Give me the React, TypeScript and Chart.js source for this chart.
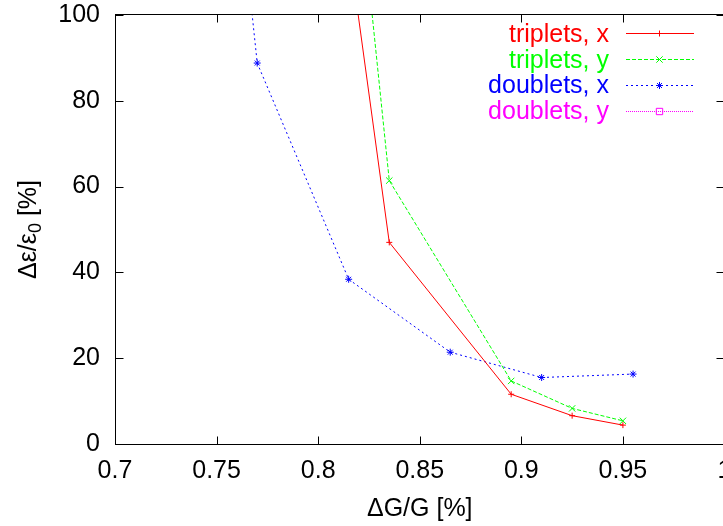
import React, { useEffect, useRef } from 'react';
import { Chart, registerables } from 'chart.js';

Chart.register(...registerables);

// ---- data ----
const xTicks = [0.7, 0.75, 0.8, 0.85, 0.9, 0.95, 1];
const yTicks = [0, 20, 40, 60, 80, 100];

const seriesNames = ['triplets, x', 'triplets, y', 'doublets, x', 'doublets, y'];

const tripletsXx = [0.805, 0.835, 0.895, 0.925, 0.95];
const tripletsXy = [151, 47.0, 11.6, 6.6, 4.4];

const tripletsYx = [0.805, 0.835, 0.895, 0.925, 0.95];
const tripletsYy = [199, 61.4, 14.7, 8.3, 5.4];

const doubletsXx = [0.76, 0.77, 0.815, 0.865, 0.91, 0.955];
const doubletsXy = [134, 88.8, 38.4, 21.4, 15.5, 16.3];

const doubletsYx: number[] = [];
const doubletsYy: number[] = [];

const xTitle = 'ΔG/G [%]';
const yTitleMain = 'Δε/ε';
const yTitleSub = '0';
const yTitleTail = ' [%]';

// ---- styles ----
const FONT = "'Liberation Sans', Arial, Helvetica, sans-serif";
const FONT_SIZE = 25;

function toPoints(xs: number[], ys: number[]) {
  return xs.map((x, i) => ({ x, y: ys[i] }));
}

function drawMarker(ctx: CanvasRenderingContext2D, style: string, x: number, y: number, r: number) {
  ctx.beginPath();
  const d = r * Math.SQRT1_2;
  if (style === 'cross' || style === 'star') {
    ctx.moveTo(x - r, y);
    ctx.lineTo(x + r, y);
    ctx.moveTo(x, y - r);
    ctx.lineTo(x, y + r);
  }
  if (style === 'crossRot' || style === 'star') {
    ctx.moveTo(x - d, y - d);
    ctx.lineTo(x + d, y + d);
    ctx.moveTo(x - d, y + d);
    ctx.lineTo(x + d, y - d);
  }
  if (style === 'rect') {
    ctx.rect(x - d, y - d, 2 * d, 2 * d);
  }
  ctx.stroke();
}

const framePlugin = {
  id: 'gnuFrame',
  beforeDatasetsDraw(chart: any) {
    const { ctx, chartArea: a, scales } = chart;
    const L = Math.round(a.left) + 0.5;
    const R = Math.round(a.right) - 0.5;
    const T = Math.round(a.top) - 0.5;
    const B = Math.round(a.bottom) + 0.5;
    ctx.save();
    ctx.strokeStyle = '#000';
    ctx.lineWidth = 1;
    ctx.setLineDash([]);
    ctx.strokeRect(L, T, R - L, B - T);
    const tl = 8;
    ctx.beginPath();
    xTicks.forEach((v) => {
      const px = Math.round(scales.x.getPixelForValue(v)) + 0.5;
      ctx.moveTo(px, B);
      ctx.lineTo(px, B - tl);
      ctx.moveTo(px, T);
      ctx.lineTo(px, T + tl);
    });
    yTicks.forEach((v) => {
      const py = Math.round(scales.y.getPixelForValue(v)) + 0.5;
      ctx.moveTo(L, py);
      ctx.lineTo(L + tl, py);
      ctx.moveTo(R, py);
      ctx.lineTo(R - tl, py);
    });
    ctx.stroke();
    ctx.restore();
  },
  afterDraw(chart: any) {
    const { ctx, chartArea: a } = chart;
    ctx.save();
    ctx.fillStyle = '#000';
    // x title
    ctx.font = `${FONT_SIZE}px ${FONT}`;
    ctx.textAlign = 'center';
    ctx.textBaseline = 'alphabetic';
    ctx.fillText(xTitle, (a.left + a.right) / 2, 516);
    // y title (rotated, with subscript)
    const mainFont = `${FONT_SIZE}px ${FONT}`;
    const subFont = `18px ${FONT}`;
    ctx.font = mainFont;
    const w1 = ctx.measureText(yTitleMain).width;
    const w3 = ctx.measureText(yTitleTail).width;
    ctx.font = subFont;
    const w2 = ctx.measureText(yTitleSub).width;
    const total = w1 + w2 + w3;
    ctx.translate(35.5, (a.top + a.bottom) / 2);
    ctx.rotate(-Math.PI / 2);
    ctx.textAlign = 'left';
    let x0 = -total / 2;
    ctx.font = mainFont;
    ctx.fillText(yTitleMain, x0, 0);
    x0 += w1;
    ctx.font = subFont;
    ctx.fillText(yTitleSub, x0, 5);
    x0 += w2;
    ctx.font = mainFont;
    ctx.fillText(yTitleTail, x0, 0);
    ctx.restore();

    // legend (gnuplot style: text right-aligned, sample to the right)
    ctx.save();
    ctx.font = `${FONT_SIZE}px ${FONT}`;
    ctx.textAlign = 'right';
    ctx.textBaseline = 'alphabetic';
    chart.data.datasets.forEach((ds: any, i: number) => {
      const cy = 33.3 + i * 25.8;
      ctx.fillStyle = ds.borderColor;
      ctx.fillText(ds.label, 609, cy + 8.5);
      const ly = Math.round(cy) + 0.5;
      ctx.strokeStyle = ds.borderColor;
      ctx.lineWidth = 1;
      ctx.setLineDash(ds.borderDash || []);
      ctx.beginPath();
      ctx.moveTo(626, ly);
      ctx.lineTo(694, ly);
      ctx.stroke();
      ctx.setLineDash([]);
      drawMarker(ctx, ds.pointStyle, 659.5, ly, ds.legendMarkerRadius);
    });
    ctx.restore();
  },
};

export default function App() {
  const ref = useRef<HTMLCanvasElement>(null);

  useEffect(() => {
    if (!ref.current) return;
    const tickFont = { size: FONT_SIZE, family: FONT };
    const chart = new Chart(ref.current, {
      type: 'line',
      data: {
        datasets: [
          {
            label: seriesNames[0],
            data: toPoints(tripletsXx, tripletsXy),
            borderColor: '#ff0000',
            backgroundColor: '#ff0000',
            borderWidth: 1,
            borderDash: [],
            pointStyle: 'cross',
            pointRadius: 3,
            pointBorderWidth: 1,
            pointBorderColor: '#ff0000',
            legendMarkerRadius: 3,
          } as any,
          {
            label: seriesNames[1],
            data: toPoints(tripletsYx, tripletsYy),
            borderColor: '#00ff00',
            backgroundColor: '#00ff00',
            borderWidth: 1,
            borderDash: [4, 2],
            pointStyle: 'crossRot',
            pointRadius: 4.5,
            pointBorderWidth: 1,
            pointBorderColor: '#00ff00',
            legendMarkerRadius: 4.5,
          } as any,
          {
            label: seriesNames[2],
            data: toPoints(doubletsXx, doubletsXy),
            borderColor: '#0000ff',
            backgroundColor: '#0000ff',
            borderWidth: 1,
            borderDash: [2, 3],
            pointStyle: 'star',
            pointRadius: 3.5,
            pointBorderWidth: 1,
            pointBorderColor: '#0000ff',
            legendMarkerRadius: 3.5,
          } as any,
          {
            label: seriesNames[3],
            data: toPoints(doubletsYx, doubletsYy),
            borderColor: '#ff00ff',
            backgroundColor: '#ff00ff',
            borderWidth: 1,
            borderDash: [1, 1],
            pointStyle: 'rect',
            pointRadius: 4.5,
            pointBorderWidth: 1,
            pointBackgroundColor: 'rgba(0,0,0,0)',
            pointBorderColor: '#ff00ff',
            legendMarkerRadius: 4.5,
          } as any,
        ],
      },
      options: {
        animation: false,
        responsive: false,
        devicePixelRatio: 1,
        layout: { padding: { top: 15, right: 20.5, left: 0, bottom: 0 } },
        plugins: {
          legend: { display: false },
          tooltip: { enabled: false },
        },
        elements: { line: { tension: 0 } },
        scales: {
          x: {
            type: 'linear',
            min: 0.7,
            max: 1,
            afterBuildTicks: (s: any) => {
              s.ticks = xTicks.map((v) => ({ value: v }));
            },
            afterFit: (s: any) => {
              s.height = 82;
              s.paddingLeft = 0;
              s.paddingRight = 0;
            },
            grid: { display: false, drawTicks: false },
            border: { display: false },
            ticks: {
              padding: 12,
              color: '#000',
              font: tickFont,
              maxRotation: 0,
              autoSkip: false,
              callback: (v: any) => String(v),
            },
          },
          y: {
            type: 'linear',
            min: 0,
            max: 100,
            afterBuildTicks: (s: any) => {
              s.ticks = yTicks.map((v) => ({ value: v }));
            },
            afterFit: (s: any) => {
              s.width = 115;
              s.paddingTop = 0;
              s.paddingBottom = 0;
            },
            grid: { display: false, drawTicks: false },
            border: { display: false },
            ticks: {
              padding: 15,
              color: '#000',
              font: tickFont,
              autoSkip: false,
              callback: (v: any) => String(v),
            },
          },
        },
      },
      plugins: [framePlugin],
    } as any);
    return () => chart.destroy();
  }, []);

  return (
    <div
      style={{
        position: 'fixed',
        left: 0,
        top: 0,
        width: 723,
        height: 526,
        overflow: 'hidden',
        background: '#fff',
      }}
    >
      <canvas ref={ref} width={745} height={526} style={{ display: 'block', width: 745, height: 526 }} />
    </div>
  );
}
